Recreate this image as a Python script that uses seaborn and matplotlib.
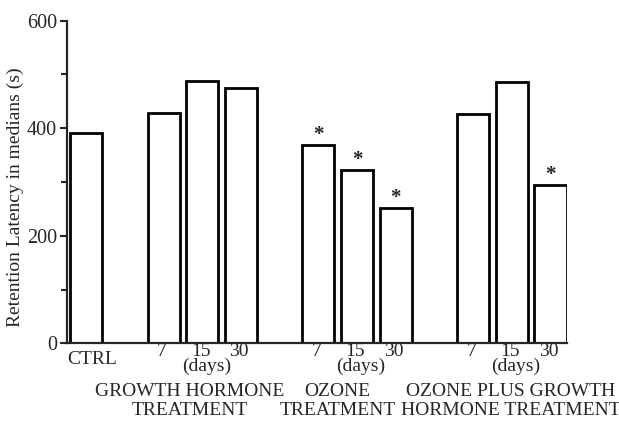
import matplotlib
matplotlib.use("Agg")
import matplotlib.pyplot as plt
import seaborn as sns
import pandas as pd

# data
groups = ["CTRL", "GROWTH HORMONE\nTREATMENT", "OZONE\nTREATMENT",
          "OZONE PLUS GROWTH\nHORMONE TREATMENT"]
days = ["7", "15", "30"]
ctrl_value = 391
gh_values = [429, 488, 475]
ozone_values = [368, 322, 252]
ozone_gh_values = [427, 486, 294]
significant = [False, False, False, False, True, True, True, False, False, True]

sns.set_style("ticks")
plt.rcParams["font.family"] = ["Liberation Serif", "DejaVu Serif"]

# bar slots: CTRL alone, then three groups of three with one empty slot between
pos = [0]
labels = ["CTRL"]
values = [ctrl_value]
for g, vals in enumerate([gh_values, ozone_values, ozone_gh_values]):
    for i, v in enumerate(vals):
        pos.append(2 + 4 * g + i)
        labels.append(days[i])
        values.append(v)
df = pd.DataFrame({"pos": pos, "value": values, "label": labels})

fig = plt.figure(figsize=(6.19, 4.23), dpi=100)
ax = fig.add_axes([0.1078, 0.1884, 0.8077, 0.7627])

sns.barplot(data=df, x="pos", y="value", native_scale=True, width=0.83,
            color="white", edgecolor="black", linewidth=2, ax=ax)

ax.set_xlim(-0.51, 12.42)
ax.set_ylim(0, 600)
ax.set_yticks([0, 200, 400, 600])
ax.set_yticks([100, 300, 500], minor=True)
ax.tick_params(axis="y", which="major", length=5, width=1.5, labelsize=14.5, pad=2)
ax.tick_params(axis="y", which="minor", length=4, width=1.5)
ax.set_xticks([])
ax.set_xlabel("")
ax.set_ylabel("Retention Latency in medians (s)", fontsize=14)
ax.yaxis.set_label_coords(-0.085, 0.452)
sns.despine(ax=ax)
ax.spines["left"].set_linewidth(1.6)
ax.spines["bottom"].set_linewidth(1.6)

# significance stars
for p, v, s in zip(pos, values, significant):
    if s:
        ax.annotate("*", (p, v), xytext=(0, 0), textcoords="offset points",
                    ha="center", va="bottom", fontsize=15, fontweight="bold")

# day labels under bars
tr = ax.get_xaxis_transform()
for p, lab in zip(pos, labels):
    if lab == "CTRL":
        ax.text(p + 0.15, -0.05, lab, transform=tr, ha="center", va="center",
                fontsize=14)
    else:
        ax.text(p - 0.05, -0.024, lab, transform=tr, ha="center", va="center",
                fontsize=14)
        if lab == "15":
            ax.text(p + 0.1, -0.072, "(days)", transform=tr, ha="center",
                    va="center", fontsize=14)

# group titles
group_x = [2.68, 6.49, 10.97]
for x, name in zip(group_x, groups[1:]):
    ax.text(x, -0.18, name, transform=tr, ha="center", va="center",
            fontsize=14, linespacing=1.15)

fig.savefig("out.png", dpi=100)
